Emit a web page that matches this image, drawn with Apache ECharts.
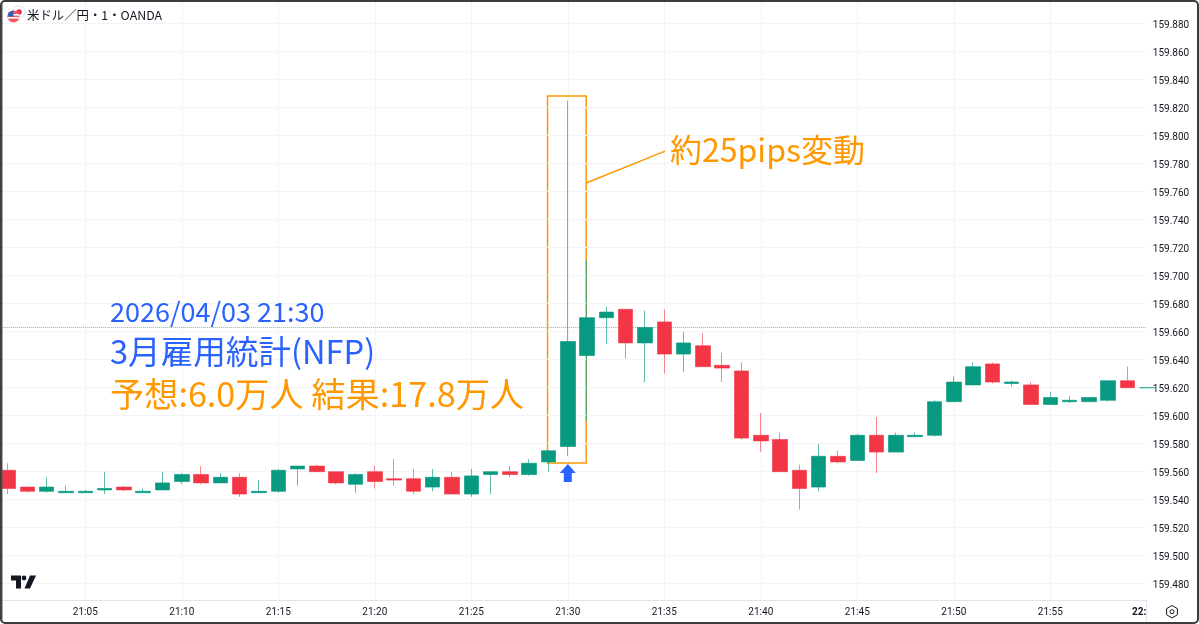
<!DOCTYPE html>
<html><head><meta charset="utf-8">
<style>html,body{margin:0;padding:0;background:#fff}#c{width:1199px;height:624px}</style>
<script src="https://cdn.jsdelivr.net/npm/echarts@6/dist/echarts.min.js"></script>
</head><body><div id="c"></div>
<script>
// candles one per minute, 21:01 .. 22:00
const opens = [159.561,159.549,159.546,159.545,159.545,159.547,159.549,159.545,159.547,159.553,
159.558,159.552,159.556,159.545,159.546,159.562,159.564,159.560,159.551,159.560,
159.555,159.555,159.549,159.556,159.544,159.558,159.560,159.558,159.567,159.578,
159.643,159.670,159.676,159.652,159.667,159.644,159.650,159.636,159.632,159.586,
159.583,159.561,159.549,159.571,159.568,159.586,159.574,159.585,159.586,159.610,
159.622,159.637,159.623,159.622,159.608,159.610,159.610,159.611,159.625,159.620];
const closes = [159.548,159.546,159.549,159.546,159.546,159.548,159.547,159.546,159.552,159.558,
159.552,159.556,159.544,159.546,159.561,159.564,159.560,159.552,159.558,159.553,
159.554,159.546,159.556,159.544,159.557,159.560,159.558,159.566,159.575,159.653,
159.670,159.674,159.652,159.663,159.644,159.652,159.635,159.634,159.584,159.582,
159.560,159.548,159.571,159.567,159.586,159.574,159.586,159.586,159.610,159.624,
159.635,159.624,159.624,159.608,159.613,159.611,159.613,159.625,159.620,159.620];
const lows = [159.544,159.545,159.545,159.545,159.545,159.544,159.546,159.545,159.547,159.551,
159.551,159.552,159.542,159.545,159.545,159.550,159.560,159.551,159.545,159.548,
159.550,159.544,159.546,159.544,159.542,159.544,159.556,159.557,159.560,159.571,
159.596,159.651,159.641,159.624,159.630,159.631,159.635,159.624,159.583,159.574,
159.560,159.533,159.546,159.566,159.568,159.559,159.574,159.585,159.585,159.610,
159.622,159.623,159.621,159.608,159.608,159.609,159.610,159.610,159.620,159.620];
const highs = [159.566,159.549,159.556,159.550,159.547,159.560,159.550,159.548,159.560,159.559,
159.564,159.559,159.559,159.554,159.562,159.564,159.565,159.560,159.559,159.564,
159.569,159.562,159.562,159.560,159.562,159.560,159.564,159.569,159.575,159.825,
159.711,159.678,159.676,159.675,159.676,159.660,159.659,159.645,159.638,159.602,
159.588,159.565,159.580,159.575,159.587,159.599,159.588,159.588,159.611,159.628,
159.638,159.638,159.625,159.624,159.617,159.614,159.613,159.625,159.635,159.620];
const priceTicks = [159.48,159.50,159.52,159.54,159.56,159.58,159.60,159.62,159.64,159.66,159.68,
159.70,159.72,159.74,159.76,159.78,159.80,159.82,159.84,159.86,159.88];
const timeTickLabels = ['21:00','21:05','21:10','21:15','21:20','21:25','21:30','21:35','21:40','21:45','21:50','21:55','22:00'];
const currentPrice = 159.663;
const boxCorners = [[28.95,159.8284],[30.95,159.5662]];
const connector = [[30.95,159.7662],[35.04,159.789]];
const arrowAt = [30,159.559];
const titleText = '米ドル／円・1・OANDA';
const note1 = '2026/04/03 21:30';
const note2 = '3月雇用統計(NFP)';
const note3 = '予想:6.0万人 結果:17.8万人';
const note4 = '約25pips変動';

const UP='#089981', DOWN='#f23645', BLUE='#2962ff', ORANGE='#ff9800', GRID='#f3f4f6', AXIS='#e0e3eb', INK='#131722';
const CJK='"Noto Sans CJK JP","Noto Sans",sans-serif';
const candleData = opens.map((o,i)=>[i+1,o,closes[i],lows[i],highs[i]]);

const chart = echarts.init(document.getElementById('c'),null,{renderer:'canvas'});
chart.setOption({
  animation:false,
  backgroundColor:'#ffffff',
  grid:{left:-11.2,top:2,width:1158,height:598,containLabel:false,outerBoundsMode:'none'},
  xAxis:{type:'value',min:0,max:60,interval:5,z:1,
    axisLine:{show:true,onZero:false,lineStyle:{color:AXIS,width:1}},
    axisTick:{show:false},
    splitLine:{show:true,lineStyle:{color:GRID,width:1}},
    axisLabel:{color:INK,fontFamily:'Roboto,sans-serif',fontSize:10,margin:7,showMinLabel:false,showMaxLabel:true,
      formatter:(v)=>{const s=timeTickLabels[v/5]; return v===60?'{b|'+s+'}':s;},
      rich:{b:{fontWeight:'bold',color:INK,fontFamily:'Roboto,sans-serif',fontSize:10,padding:[0,4,0,0]}}}
  },
  yAxis:{type:'value',position:'right',min:159.46835,max:159.8955,z:3,
    axisLine:{show:true,lineStyle:{color:AXIS,width:1}},
    axisTick:{show:false,customValues:priceTicks},
    splitLine:{show:true,lineStyle:{color:GRID,width:1}},
    axisLabel:{color:INK,fontFamily:'Roboto,sans-serif',fontSize:10,margin:6,customValues:priceTicks,
      formatter:(v)=>'{p|'+v.toFixed(3)+'}',
      rich:{p:{color:INK,fontFamily:'Roboto,sans-serif',fontSize:10,padding:[3,0,0,0]}}}
  },
  series:[{
    type:'candlestick',z:5,barWidth:15,
    encode:{x:0,y:[1,2,3,4]},
    data:candleData,
    itemStyle:{color:UP,color0:DOWN,borderColor:'rgba(8,153,129,0.65)',borderColor0:'rgba(242,54,69,0.6)',borderColorDoji:'rgba(8,153,129,0.65)',borderWidth:1},
    markLine:{silent:true,symbol:'none',precision:3,label:{show:false},animation:false,data:[
      {yAxis:currentPrice,lineStyle:{type:'dotted',color:'#8fb3aa',width:1}},
      [{coord:connector[0],lineStyle:{type:'solid',color:ORANGE,width:1.5}},{coord:connector[1]}]
    ]},
    markArea:{silent:true,label:{show:false},itemStyle:{color:'rgba(0,0,0,0)',borderColor:ORANGE,borderWidth:1.5},
      data:[[{coord:boxCorners[0]},{coord:boxCorners[1]}]]},
    markPoint:{silent:true,label:{show:false},symbol:'path://M8 0L16 9H12V18H4V9H0Z',symbolSize:[16,18],
      itemStyle:{color:BLUE},data:[{coord:arrowAt}]}
  }],
  graphic:[
    {type:'rect',z:2,silent:true,shape:{x:1146.8,y:0,width:53,height:624},style:{fill:'#fff'}},
    {type:'line',z:2,silent:true,shape:{x1:1146.5,y1:600,x2:1146.5,y2:624},style:{stroke:AXIS,lineWidth:1}},
    {type:'text',z:20,style:{text:titleText,x:27,y:15,fill:INK,font:'12.4px '+CJK,textVerticalAlign:'middle'}},
    {type:'circle',z:20,shape:{cx:19,cy:12,r:6},style:{fill:'#fff',stroke:'#dfe3ee',lineWidth:1}},
    {type:'circle',z:20,shape:{cx:19,cy:12,r:2.8},style:{fill:'#e8334a'}},
    {type:'circle',z:21,shape:{cx:13.5,cy:16.5,r:6},style:{fill:'#f25a63'}},
    {type:'rect',z:21,shape:{x:8,y:14,width:11,height:1.6},style:{fill:'#fff'}},
    {type:'rect',z:21,shape:{x:8,y:17,width:11,height:1.6},style:{fill:'#fff'}},
    {type:'sector',z:21,shape:{cx:13.5,cy:16.5,r:6,r0:0,startAngle:Math.PI,endAngle:Math.PI*1.5},style:{fill:'#2f5fb8'}},
    {type:'text',z:20,style:{text:note1,x:110,y:312,fill:BLUE,font:'27px '+CJK,textVerticalAlign:'middle'}},
    {type:'text',z:20,style:{text:note2,x:110,y:352,fill:BLUE,font:'32.6px '+CJK,textVerticalAlign:'middle'}},
    {type:'text',z:20,style:{text:note3,x:110,y:394,fill:ORANGE,font:'34.2px '+CJK,textVerticalAlign:'middle'}},
    {type:'text',z:20,style:{text:note4,x:670,y:150,fill:ORANGE,font:'32px '+CJK,textVerticalAlign:'middle'}},
    {type:'polygon',z:20,shape:{points:[[11,575.5],[21,575.5],[21,588.5],[16,588.5],[16,580.5],[11,580.5]]},style:{fill:INK}},
    {type:'circle',z:20,shape:{cx:24,cy:578,r:2.4},style:{fill:INK}},
    {type:'polygon',z:20,shape:{points:[[30,575.5],[36,575.5],[30,588.5],[24.5,588.5]]},style:{fill:INK}},
    {type:'polygon',z:20,shape:{points:[[1172,605.5],[1177.4,608.6],[1177.4,614.8],[1172,617.9],[1166.6,614.8],[1166.6,608.6]]},style:{fill:'none',stroke:INK,lineWidth:1}},
    {type:'circle',z:20,shape:{cx:1172,cy:611.7,r:2},style:{fill:'none',stroke:INK,lineWidth:1}},
    {type:'rect',z:30,silent:true,shape:{x:1,y:1,width:1197,height:622,r:4},style:{fill:'none',stroke:'#3c3c3c',lineWidth:2}},
    {type:'line',z:30,silent:true,shape:{x1:2,y1:3,x2:2,y2:621},style:{stroke:'#555',lineWidth:1}}
  ]
});
</script></body></html>
